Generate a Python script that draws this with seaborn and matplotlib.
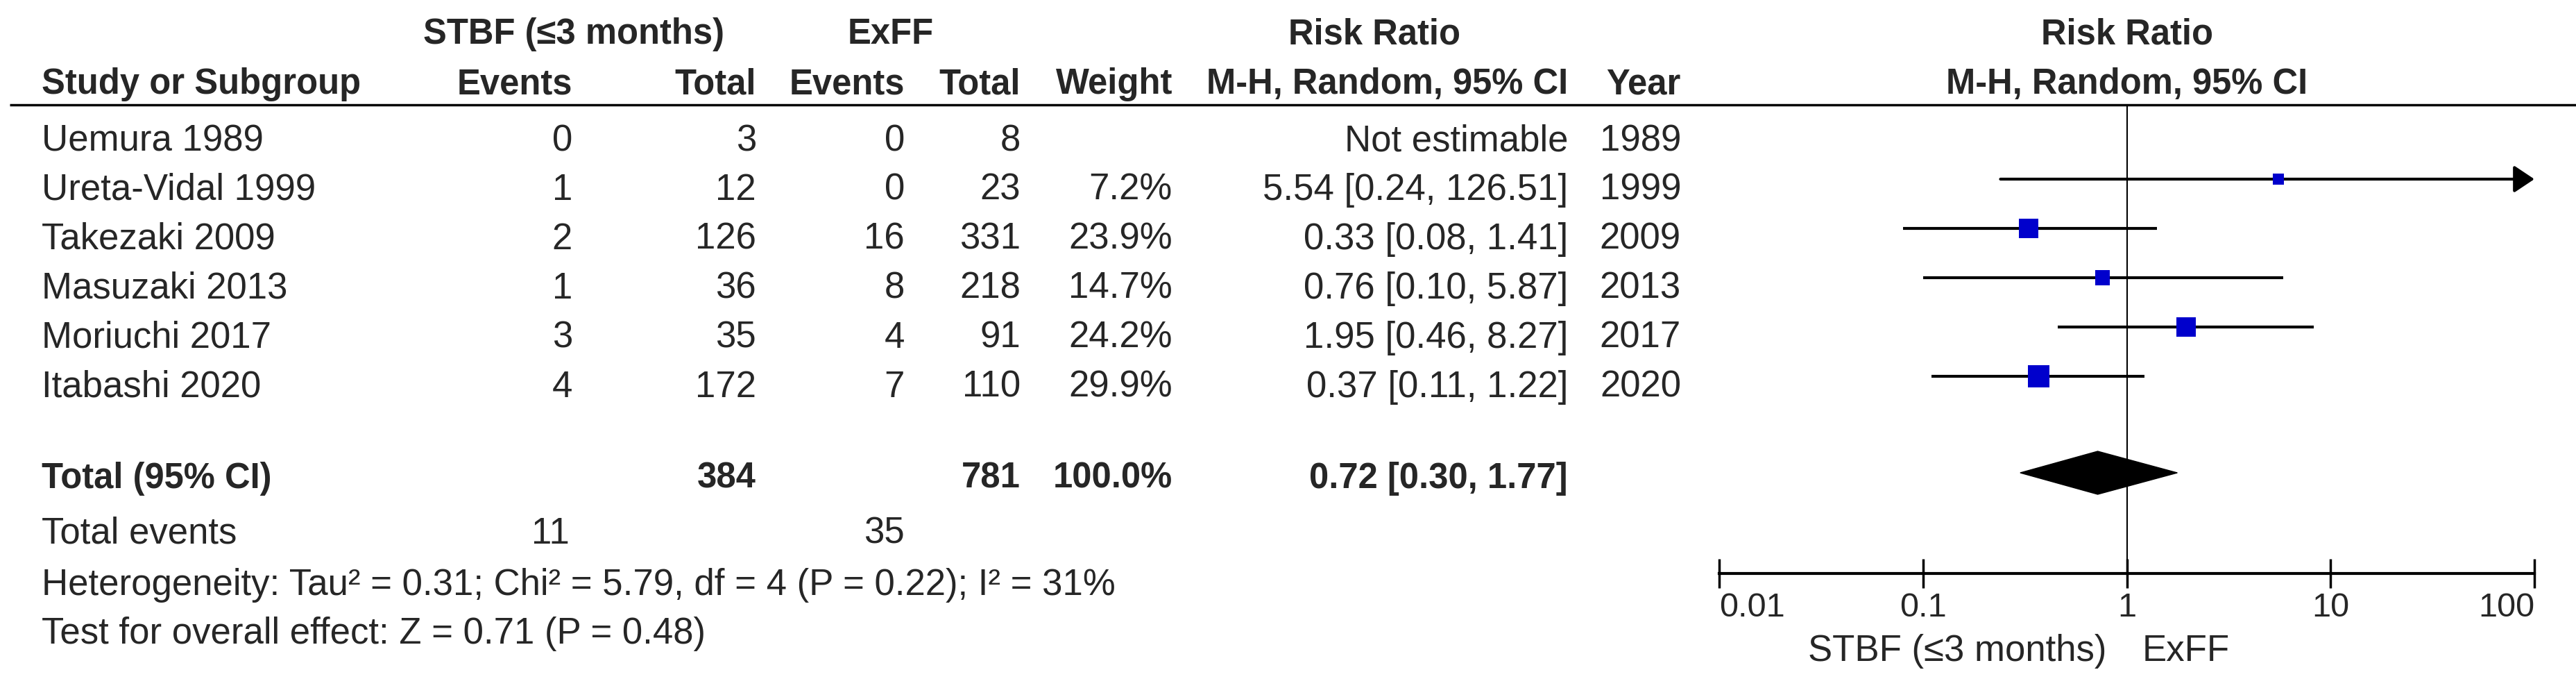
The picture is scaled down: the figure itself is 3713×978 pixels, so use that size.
import numpy as np
import pandas as pd
import seaborn as sns
import matplotlib.pyplot as plt


sns.set_style('white')
plt.rcParams['font.family'] = ['Liberation Sans', 'DejaVu Sans']

# data
studies = ['Uemura 1989', 'Ureta-Vidal 1999', 'Takezaki 2009', 'Masuzaki 2013', 'Moriuchi 2017', 'Itabashi 2020']
stbf_events = [0, 1, 2, 1, 3, 4]
stbf_total = [3, 12, 126, 36, 35, 172]
exff_events = [0, 0, 16, 8, 4, 7]
exff_total = [8, 23, 331, 218, 91, 110]
weights = [np.nan, 7.2, 23.9, 14.7, 24.2, 29.9]
rr = [np.nan, 5.54, 0.33, 0.76, 1.95, 0.37]
ci_lo = [np.nan, 0.24, 0.08, 0.10, 0.46, 0.11]
ci_hi = [np.nan, 126.51, 1.41, 5.87, 8.27, 1.22]
years = [1989, 1999, 2009, 2013, 2017, 2020]

total_stbf, total_exff = 384, 781
events_stbf, events_exff = 11, 35
total_weight = 100.0
total_rr, total_lo, total_hi = 0.72, 0.30, 1.77
heterogeneity = 'Heterogeneity: Tau² = 0.31; Chi² = 5.79, df = 4 (P = 0.22); I² = 31%'
overall = 'Test for overall effect: Z = 0.71 (P = 0.48)'
axis_ticks = [0.01, 0.1, 1, 10, 100]
axis_labels = ['0.01', '0.1', '1', '10', '100']

W, H = 3713, 979
fig = plt.figure(figsize=(W / 100, H / 100), dpi=100)
tab = fig.add_axes([0, 0, 1, 1])
tab.set_xlim(0, W)
tab.set_ylim(H, 0)
tab.axis('off')

FS, FSB = 38, 36.5


def put(x, y, s, ha='right', bold=False):
    tab.text(x, y, s, ha=ha, va='baseline', fontsize=FSB if bold else FS,
             fontweight='bold' if bold else 'normal')


# column right edges
c_ev1, c_tot1, c_ev2, c_tot2, c_w, c_rr, c_yr = 825, 1090, 1304, 1471, 1690, 2260, 2423
left = 60

# headers
put(827, 63, 'STBF (≤3 months)', 'center', True)
put(1284, 63, 'ExFF', 'center', True)
put(1981, 63, 'Risk Ratio', 'center', True)
put(3066, 63, 'Risk Ratio', 'center', True)
put(left, 135, 'Study or Subgroup', 'left', True)
put(c_ev1, 135, 'Events', bold=True)
put(c_tot1, 135, 'Total', bold=True)
put(c_ev2, 135, 'Events', bold=True)
put(c_tot2, 135, 'Total', bold=True)
put(c_w, 135, 'Weight', bold=True)
put(c_rr, 135, 'M-H, Random, 95% CI', bold=True)
put(c_yr, 135, 'Year', bold=True)
put(3066, 135, 'M-H, Random, 95% CI', 'center', True)
tab.hlines(152, 14, W, color='black', lw=2.5)

# study rows
for i, name in enumerate(studies):
    yb = 217 + 71 * i
    put(left, yb, name, 'left')
    put(c_ev1, yb, str(stbf_events[i]))
    put(c_tot1, yb, str(stbf_total[i]))
    put(c_ev2, yb, str(exff_events[i]))
    put(c_tot2, yb, str(exff_total[i]))
    if np.isnan(rr[i]):
        put(c_rr, yb, 'Not estimable')
    else:
        put(c_w, yb, f'{weights[i]:.1f}%')
        put(c_rr, yb, f'{rr[i]:.2f} [{ci_lo[i]:.2f}, {ci_hi[i]:.2f}]')
    put(c_yr, yb, str(years[i]))

# total rows
put(left, 703, 'Total (95% CI)', 'left', True)
put(c_tot1, 703, str(total_stbf), bold=True)
put(c_tot2, 703, str(total_exff), bold=True)
put(c_w, 703, f'{total_weight:.1f}%', bold=True)
put(c_rr, 703, f'{total_rr:.2f} [{total_lo:.2f}, {total_hi:.2f}]', bold=True)
put(left, 783, 'Total events', 'left')
put(821, 783, str(events_stbf))
put(c_ev2, 783, str(events_exff))
put(left, 857, heterogeneity, 'left')
put(left, 927, overall, 'left')
put(3036, 952, 'STBF (≤3 months)')
put(3088, 952, 'ExFF', 'left')

# forest panel
fp = fig.add_axes([2478 / W, (H - 827) / H, (3653 - 2478) / W, (827 - 152) / H])
fp.patch.set_alpha(0)

df = pd.DataFrame({'rr': rr, 'lo': ci_lo, 'hi': ci_hi, 'weight': weights})
df['y'] = 188 + 71 * np.arange(len(df))
df = df.dropna()

for _, r in df.iterrows():
    if r['hi'] > axis_ticks[-1]:
        fp.annotate('', xy=(axis_ticks[-1], r['y']), xytext=(r['lo'], r['y']),
                    arrowprops=dict(arrowstyle='-|>,head_length=0.45,head_width=0.3',
                                    mutation_scale=40, lw=3, color='black',
                                    shrinkA=0, shrinkB=0),
                    annotation_clip=False)
    else:
        fp.hlines(r['y'], r['lo'], r['hi'], color='black', lw=3, zorder=2)

sns.scatterplot(data=df, x='rr', y='y', size='weight', sizes=(0, 500), size_norm=(0, 30),
                marker='s', color='#0000CC', edgecolor='#0000CC', linewidth=0,
                legend=False, ax=fp, zorder=3)

yt = 682
fp.fill([total_lo, total_rr, total_hi, total_rr], [yt, yt - 31, yt, yt + 31],
        color='black', zorder=3)
fp.axvline(1, color='black', lw=1.5, zorder=1)

fp.set_xscale('log')
fp.set_xlim(axis_ticks[0], axis_ticks[-1])
fp.set_ylim(827, 152)
fp.set_xlabel('')
fp.set_ylabel('')
fp.set_yticks([])
for s in ['top', 'right', 'left']:
    fp.spines[s].set_visible(False)
fp.spines['bottom'].set_linewidth(3)
fp.spines['bottom'].set_color('black')
fp.set_xticks(axis_ticks)
fp.set_xticklabels(axis_labels)
fp.minorticks_off()
fp.tick_params(axis='x', direction='inout', length=30, width=2.5, labelsize=35, pad=4,
               color='black', bottom=True)
labs = fp.get_xticklabels()
labs[0].set_ha('left')
labs[-1].set_ha('right')

fig.savefig('out.png', dpi=100)
